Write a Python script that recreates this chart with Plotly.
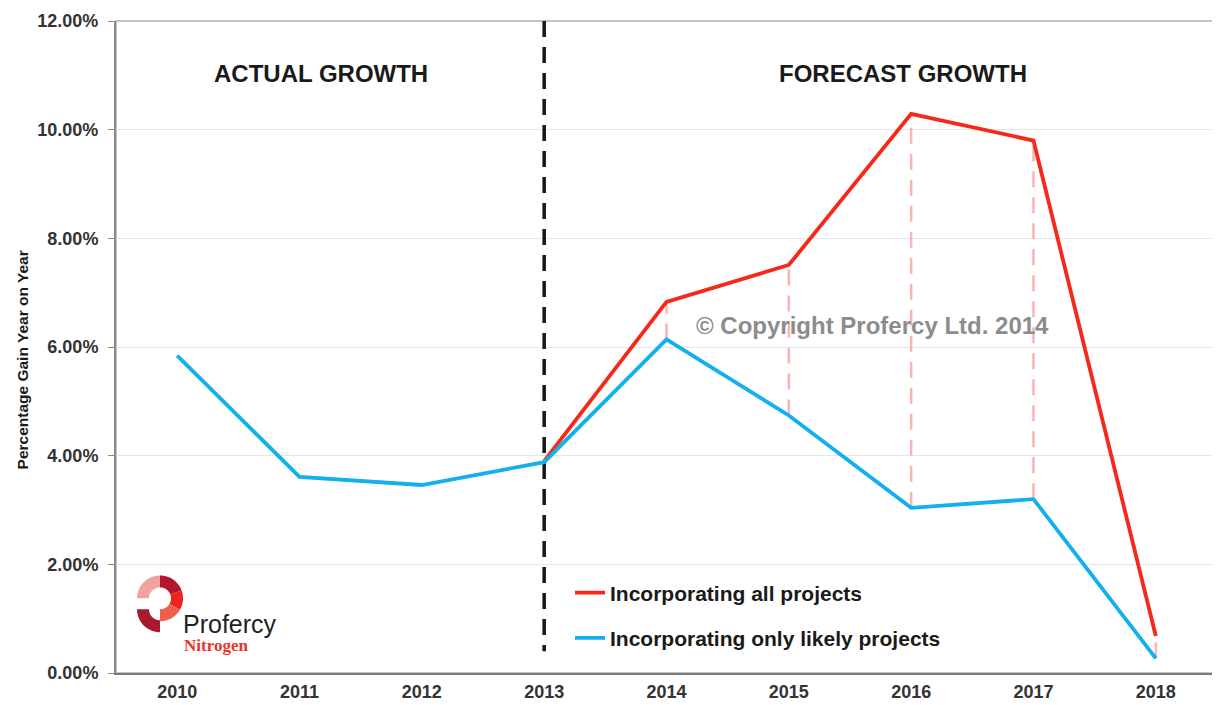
import math
import plotly.graph_objects as go

# ---------------- data ----------------
years = ["2010", "2011", "2012", "2013", "2014", "2015", "2016", "2017", "2018"]
likely_projects = [5.84, 3.61, 3.46, 3.88, 6.14, 4.74, 3.04, 3.20, 0.27]      # blue, % gain
all_projects_years = ["2013", "2014", "2015", "2016", "2017", "2018"]
all_projects = [3.90, 6.83, 7.51, 10.29, 9.80, 0.68]                         # red, % gain
divider_year = "2013"
divider_span = [12.0, 0.4]
y_ticks = [0, 2, 4, 6, 8, 10, 12]

FONT = "Liberation Sans, Arial, sans-serif"
RED = "#f5281a"
BLUE = "#12b0ec"
PINK = "#f9b5b2"

# page offset from default body margin
OFF = 8
W, H = 1212, 697
L, R_, T, B = 108, 3, 11, 31
PW, PH = W - L - R_, H - T - B
PLOT_LEFT = OFF + L
PLOT_BOTTOM = OFF + H - B


def px2paper(px, py):
    return (px - PLOT_LEFT) / PW, (PLOT_BOTTOM - py) / PH


def pct(vals):
    return [v / 100 for v in vals]


def arc_path(cx, cy, ro, ri, a1, a2, n=24):
    pts = []
    for i in range(n + 1):
        a = math.radians(a1 + (a2 - a1) * i / n)
        pts.append(px2paper(cx + ro * math.cos(a), cy - ro * math.sin(a)))
    for i in range(n, -1, -1):
        a = math.radians(a1 + (a2 - a1) * i / n)
        pts.append(px2paper(cx + ri * math.cos(a), cy - ri * math.sin(a)))
    return "M " + " L ".join(f"{x:.5f},{y:.5f}" for x, y in pts) + " Z"


fig = go.Figure()

# pink dashed connectors between the two forecasts
likely_map = dict(zip(years, likely_projects))
for yr, v in zip(all_projects_years[1:], all_projects[1:]):
    fig.add_trace(go.Scatter(
        x=[yr, yr], y=pct([likely_map[yr], v]), mode="lines",
        line=dict(color=PINK, width=2.5, dash="16px,10px"),
        showlegend=False, hoverinfo="skip"))

# black dashed divider
fig.add_trace(go.Scatter(
    x=[divider_year, divider_year], y=pct(divider_span), mode="lines",
    line=dict(color="#151515", width=3.5, dash="16px,10px"),
    showlegend=False, hoverinfo="skip"))

fig.add_trace(go.Scatter(
    x=all_projects_years, y=pct(all_projects), mode="lines",
    name="Incorporating all projects", legendgroup="a",
    line=dict(color=RED, width=3.8)))
fig.add_trace(go.Scatter(
    x=years, y=pct(likely_projects), mode="lines",
    name="Incorporating only likely projects", legendgroup="b",
    line=dict(color=BLUE, width=3.8)))

# frame
fig.add_shape(type="rect", xref="paper", yref="paper", x0=0, x1=1, y0=0, y1=1,
              line=dict(color="#c4c4c4", width=2), layer="below")

# logo
logo_segments = [
    (160, 599, 23, 11, 90, 180, "#f3a39e"),
    (160, 599, 23, 11, 20, 90, "#b4172b"),
    (160, 599, 23, 11, -30, 20, "#e9261c"),
    (160, 599, 23, 11, -90, -30, "#ee5f4c"),
    (160, 610, 23, 11, 180, 270, "#a81b2d"),
]
for cx, cy, ro, ri, a1, a2, col in logo_segments:
    fig.add_shape(type="path", xref="paper", yref="paper",
                  path=arc_path(cx, cy, ro, ri, a1, a2),
                  fillcolor=col, line=dict(width=0), layer="above")

annotations = [
    dict(text="ACTUAL GROWTH", x=px2paper(321, 0)[0], y=px2paper(0, 72)[1],
         font=dict(size=24, color="#1a1a1a", family=FONT, weight="bold")),
    dict(text="FORECAST GROWTH", x=px2paper(903, 0)[0], y=px2paper(0, 72)[1],
         font=dict(size=24, color="#1a1a1a", family=FONT, weight="bold")),
    dict(text="© Copyright Profercy Ltd. 2014", x=px2paper(872, 0)[0], y=px2paper(0, 325)[1],
         font=dict(size=24, color="#8c8c8c", family=FONT, weight="bold")),
    dict(text="Percentage Gain Year on Year", x=px2paper(22, 0)[0], y=px2paper(0, 360)[1],
         textangle=-90, font=dict(size=15.5, color="#1a1a1a", family=FONT, weight="bold")),
    dict(text="Profercy", x=px2paper(181, 0)[0], y=px2paper(0, 625)[1], xanchor="left",
         font=dict(size=25, color="#222222", family=FONT)),
    dict(text="Nitrogen", x=px2paper(182, 0)[0], y=px2paper(0, 646)[1], xanchor="left",
         font=dict(size=17, color="#e8352a", family="Liberation Serif, DejaVu Serif, serif", weight="bold")),
]
for a in annotations:
    a.setdefault("xanchor", "center")
    a.update(xref="paper", yref="paper", yanchor="middle", showarrow=False)

fig.update_layout(
    width=W, height=H,
    margin=dict(l=L, r=R_, t=T, b=B),
    plot_bgcolor="white", paper_bgcolor="white",
    font=dict(family=FONT, color="#333333"),
    annotations=annotations,
    showlegend=True,
    legend=dict(x=px2paper(570, 0)[0], y=px2paper(0, 573)[1], xanchor="left", yanchor="top",
                traceorder="grouped", tracegroupgap=15, bgcolor="rgba(0,0,0,0)",
                font=dict(size=21, color="#1a1a1a", family=FONT, weight="bold")),
    xaxis=dict(type="category", categoryorder="array", categoryarray=years,
               range=[-0.5, len(years) - 0.5], showgrid=False, zeroline=False,
               showline=True, linecolor="#7a7a7a", linewidth=2, ticks="",
               tickfont=dict(size=18, color="#333333", family=FONT, weight="bold"),
               ticklabelstandoff=1),
    yaxis=dict(range=[0, 0.12], tickvals=pct(y_ticks), tickformat=".2%",
               showgrid=True, gridcolor="#e6e6e6", gridwidth=1, zeroline=False,
               showline=True, linecolor="#8a8a8a", linewidth=2,
               ticks="outside", ticklen=6, tickcolor="#8a8a8a", tickwidth=1,
               tickfont=dict(size=18, color="#333333", family=FONT, weight="bold"),
               ticklabelstandoff=6),
)

fig.write_html("out.html")
